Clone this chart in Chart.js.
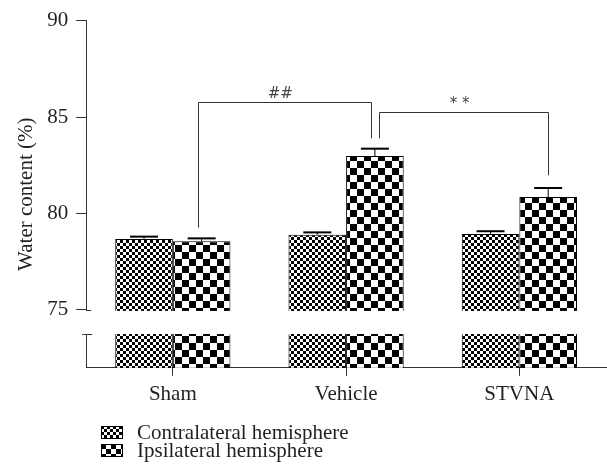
<!DOCTYPE html>
<html>
<head>
<meta charset="utf-8">
<script src="https://cdn.jsdelivr.net/npm/chart.js@4.4.0/dist/chart.umd.min.js"></script>
<style>
body { margin: 0; background: #fff; }
#wrap { position: relative; width: 607px; height: 472px; }
#leyenda { position: absolute; left: 101px; top: 423px; font: 21px "Liberation Serif", serif; color: #231f20; }
.item { display: flex; align-items: center; height: 18px; }
.item canvas { width: 22px; height: 13px; margin-right: 14px; }
</style>
</head>
<body>
<div id="wrap">
  <canvas id="grafico" width="607" height="472"></canvas>
  <div id="leyenda"></div>
</div>
<script>
const grupos = ["Sham", "Vehicle", "STVNA"];
const contralateral = [78.68, 78.90, 78.94];
const contralateralErr = [0.12, 0.12, 0.14];
const ipsilateral = [78.56, 82.98, 80.85];
const ipsilateralErr = [0.15, 0.38, 0.47];
const ticksY = [75, 80, 85, 90];
const corteY = [73.75, 75];
// significance brackets between ipsilateral bars
const marcas = [
    { desde: 0, hasta: 1, arriba: 85.78, patas: [79.27, 83.90], texto: "##" },
    { desde: 1, hasta: 2, arriba: 85.26, patas: [83.90, 81.98], texto: "* *" }
];
const etiquetas = ["Contralateral hemisphere", "Ipsilateral hemisphere"];

const serif = "'Liberation Serif', 'Times New Roman', serif";
const tinta = "#231f20";

const canvas = document.getElementById("grafico");
const ctx = canvas.getContext("2d");

function ajedrez(g, size) {
    const c = document.createElement("canvas");
    c.width = c.height = size * 2;
    const p = c.getContext("2d");
    p.fillStyle = "#fff";
    p.fillRect(0, 0, size * 2, size * 2);
    p.fillStyle = "#000";
    p.fillRect(0, 0, size, size);
    p.fillRect(size, size, size, size);
    return g.createPattern(c, "repeat");
}

const extras = {
    id: "extras",
    afterDatasetsDraw(chart) {
        const g = chart.ctx;
        const y = chart.scales.y;
        const area = chart.chartArea;
        g.save();

        // error bars
        const errores = [contralateralErr, ipsilateralErr];
        const valores = [contralateral, ipsilateral];
        g.strokeStyle = "#000";
        errores.forEach((errs, d) => {
            chart.getDatasetMeta(d).data.forEach((bar, i) => {
                const yTop = y.getPixelForValue(valores[d][i] + errs[i]);
                g.lineWidth = 1;
                g.beginPath();
                g.moveTo(bar.x, bar.y);
                g.lineTo(bar.x, yTop);
                g.stroke();
                g.lineWidth = 2;
                g.beginPath();
                g.moveTo(bar.x - 14, yTop);
                g.lineTo(bar.x + 14, yTop);
                g.stroke();
            });
        });

        // axis break
        const y75 = y.getPixelForValue(corteY[1]);
        const yLow = y.getPixelForValue(corteY[0]);
        g.fillStyle = "#fff";
        g.fillRect(area.left - 2, y75 + 1, area.right - area.left + 4, yLow - y75 - 1);
        g.strokeStyle = "#333";
        g.lineWidth = 1;
        g.beginPath();
        g.moveTo(area.left, Math.round(y75) + 0.5);
        g.lineTo(area.left + 5, Math.round(y75) + 0.5);
        g.moveTo(area.left - 4, Math.round(yLow) + 0.5);
        g.lineTo(area.left + 6, Math.round(yLow) + 0.5);
        g.stroke();

        // brackets
        const ipsi = chart.getDatasetMeta(1).data;
        g.strokeStyle = "#333";
        g.fillStyle = "#444";
        g.font = "15px 'DejaVu Sans', sans-serif";
        g.textAlign = "center";
        g.textBaseline = "bottom";
        marcas.forEach((m, k) => {
            const x1 = ipsi[m.desde].x + (k === 0 ? -4 : 4);
            const x2 = ipsi[m.hasta].x + (k === 0 ? -4 : 0);
            const yt = Math.round(y.getPixelForValue(m.arriba)) + 0.5;
            g.beginPath();
            g.moveTo(Math.round(x1) + 0.5, y.getPixelForValue(m.patas[0]));
            g.lineTo(Math.round(x1) + 0.5, yt);
            g.lineTo(Math.round(x2) + 0.5, yt);
            g.lineTo(Math.round(x2) + 0.5, y.getPixelForValue(m.patas[1]));
            g.stroke();
            g.fillText(m.texto, (x1 + x2) / 2 - 4, yt - 1);
        });
        g.restore();
    }
};

const patrones = [ajedrez(ctx, 3), ajedrez(ctx, 7)];

const chart = new Chart(ctx, {
    type: "bar",
    data: {
        labels: grupos,
        datasets: [{
            label: etiquetas[0],
            data: contralateral,
            backgroundColor: patrones[0],
            borderColor: "#000",
            borderWidth: 1,
            barPercentage: 1,
            categoryPercentage: 0.665
        }, {
            label: etiquetas[1],
            data: ipsilateral,
            backgroundColor: patrones[1],
            borderColor: "#000",
            borderWidth: 1,
            barPercentage: 1,
            categoryPercentage: 0.665
        }]
    },
    options: {
        responsive: false,
        animation: false,
        layout: { padding: { top: 10, right: 1, bottom: 59, left: 10 } },
        scales: {
            x: {
                offset: true,
                grid: { offset: false, drawOnChartArea: false, tickLength: 8, color: "#333" },
                border: { color: "#333" },
                ticks: { color: tinta, font: { family: serif, size: 21 }, padding: 6 }
            },
            y: {
                min: 72,
                max: 90,
                afterBuildTicks: (scale) => {
                    scale.ticks = ticksY.map(v => ({ value: v }));
                },
                grid: { drawOnChartArea: false, tickLength: 10, color: "#333" },
                border: { color: "#333" },
                ticks: { color: tinta, font: { family: serif, size: 21 }, padding: 8 },
                title: {
                    display: true,
                    text: "Water content (%)",
                    color: tinta,
                    font: { family: serif, size: 21 },
                    padding: { top: 4, bottom: 0 }
                }
            }
        },
        plugins: {
            legend: { display: false },
            tooltip: { enabled: false }
        }
    },
    plugins: [extras]
});

const leyenda = document.getElementById("leyenda");
etiquetas.forEach((texto, i) => {
    const item = document.createElement("div");
    item.className = "item";
    const caja = document.createElement("canvas");
    caja.width = 22;
    caja.height = 13;
    const cg = caja.getContext("2d");
    cg.fillStyle = ajedrez(cg, i === 0 ? 3 : 5);
    cg.fillRect(0, 0, 22, 13);
    cg.strokeStyle = "#000";
    cg.strokeRect(0.5, 0.5, 21, 12);
    const span = document.createElement("span");
    span.textContent = texto;
    item.appendChild(caja);
    item.appendChild(span);
    leyenda.appendChild(item);
});
</script>
</body>
</html>
